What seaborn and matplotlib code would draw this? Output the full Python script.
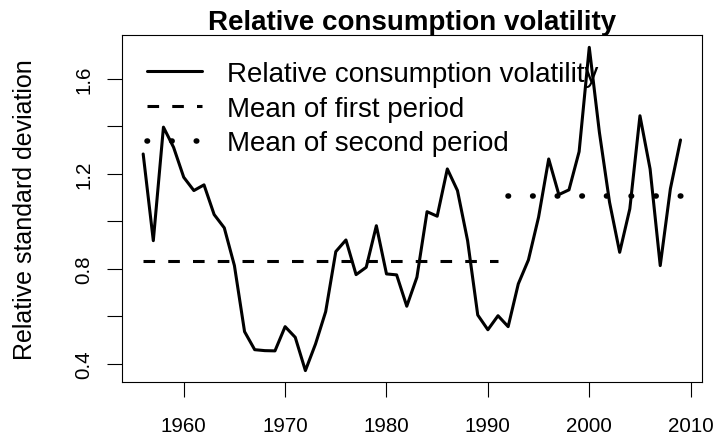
import matplotlib
matplotlib.use('Agg')
import matplotlib.pyplot as plt
import pandas as pd
import seaborn as sns


# relative consumption volatility per year
years = list(range(1956, 2010))
volatility = [1.284, 0.919, 1.397, 1.312, 1.186, 1.130, 1.154, 1.029, 0.973, 0.814,
              0.536, 0.460, 0.456, 0.455, 0.557, 0.512, 0.372, 0.484, 0.620, 0.873,
              0.922, 0.776, 0.807, 0.982, 0.779, 0.775, 0.643, 0.765, 1.041, 1.022,
              1.221, 1.130, 0.919, 0.606, 0.544, 0.603, 0.557, 0.737, 0.838, 1.018,
              1.263, 1.113, 1.133, 1.294, 1.733, 1.375, 1.081, 0.870, 1.053, 1.445,
              1.221, 0.814, 1.137, 1.343]

# period means
first_period = [1956, 1991]
first_mean = 0.835
second_period = [1992, 2009]
second_mean = 1.109

x_ticks = [1960, 1970, 1980, 1990, 2000, 2010]
y_ticks = [0.4, 0.6, 0.8, 1.0, 1.2, 1.4, 1.6]
y_labels = ['0.4', '', '0.8', '', '1.2', '', '1.6']

sns.set_theme(style='white')
plt.rcParams['font.family'] = ['Liberation Sans', 'DejaVu Sans']
plt.rcParams['text.color'] = 'black'

df = pd.DataFrame({'Year': years, 'Value': volatility})
df1 = pd.DataFrame({'Year': first_period, 'Value': [first_mean] * len(first_period)})
df2 = pd.DataFrame({'Year': second_period, 'Value': [second_mean] * len(second_period)})

fig, ax = plt.subplots(figsize=(7.2, 4.39), dpi=100)
fig.subplots_adjust(left=0.169, right=0.975, top=0.918, bottom=0.1276)

sns.lineplot(data=df, x='Year', y='Value', ax=ax, color='black', linewidth=2.2,
             label='Relative consumption volatility')
sns.lineplot(data=df1, x='Year', y='Value', ax=ax, color='black', linewidth=2.2,
             label='Mean of first period')
sns.lineplot(data=df2, x='Year', y='Value', ax=ax, color='black', linewidth=4.0,
             label='Mean of second period')

lines = ax.get_lines()
lines[1].set_dashes((3.8, 4.3))
lines[2].set_dashes((0.1, 4.33))
lines[2].set_dash_capstyle('round')

ax.set_xlim(1953.88, 2011.12)
ax.set_ylim(0.324, 1.785)
ax.set_xticks(x_ticks)
ax.set_xticklabels([str(t) for t in x_ticks])
ax.set_yticks(y_ticks)
ax.set_yticklabels(y_labels)

for s in ax.spines.values():
    s.set_visible(True)
    s.set_color('black')
    s.set_linewidth(0.8)

ax.tick_params(axis='both', direction='out', length=10.5, width=0.8, color='black',
               labelsize=14.8, labelcolor='black', bottom=True, left=True)
ax.tick_params(axis='x', pad=14)
ax.tick_params(axis='y', pad=10)
for lab in ax.get_yticklabels():
    lab.set_rotation(90)
    lab.set_va('center')

ax.set_xlabel('')
ax.set_ylabel('Relative standard deviation', fontsize=18, color='black', labelpad=27)
ax.set_title('Relative consumption volatility', fontsize=20, fontweight='bold',
             color='black', pad=4.5)

leg = ax.legend(loc='upper left', bbox_to_anchor=(0.043, 0.926), frameon=False, fontsize=20,
                handlelength=2.0, handletextpad=0.9, labelspacing=0.32, borderpad=0,
                borderaxespad=0)
for t in leg.get_texts():
    t.set_color('black')

fig.savefig('out.png', dpi=100)
